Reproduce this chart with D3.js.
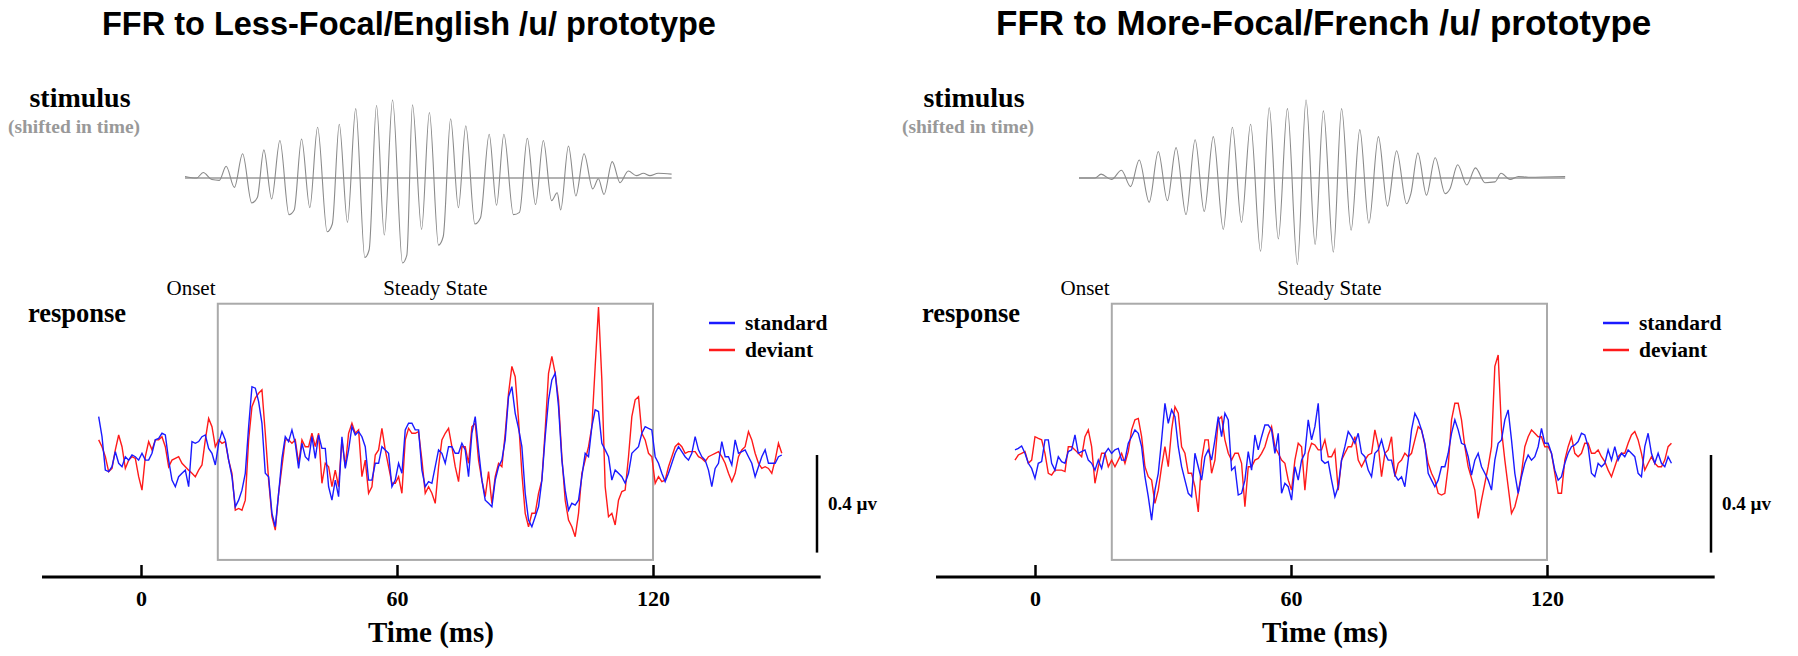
<!DOCTYPE html>
<html>
<head>
<meta charset="utf-8">
<script src="https://cdn.jsdelivr.net/npm/d3@7"></script>
<style>
  body { margin: 0; background: #fff; }
</style>
</head>
<body>
<svg id="chart"></svg>
<script>
// ---- data ----
var titles = ["FFR to Less-Focal/English /u/ prototype", "FFR to More-Focal/French /u/ prototype"];
var tickValues = [0, 60, 120];
var steadyWindow = [18, 120];      // ms, grey box
var boxAmp = [-0.43, 0.62];        // µV, grey box
var scaleBarUv = 0.4;
var axisExtent = [-23.2, 159.3];   // ms

// responses, sampled every sampleStep ms (µV)
var sampleStep = 0.781;
var leftStart = -9.92, rightStart = -4.69;

var leftStandard = [0.157,0.075,-0.062,-0.068,-0.048,0.014,-0.034,-0.048,-0.007,-0.021,
0,-0.007,-0.021,0.007,-0.021,-0.021,0.007,0.062,0.068,0.089,
0.082,-0.021,-0.103,-0.130,-0.089,-0.075,-0.062,-0.130,0.055,0.048,
0.055,0.075,0.082,0.027,0.007,-0.041,0.048,0.096,0.062,-0.021,
-0.089,-0.212,-0.185,-0.144,-0.075,0.116,0.280,0.274,0.219,0.130,
-0.075,-0.089,-0.239,-0.294,-0.157,-0.014,0.075,0.055,0.103,0.048,
-0.055,0.048,-0.007,-0.021,0.075,-0.014,0.082,0.027,0.027,-0.130,
-0.185,-0.103,-0.171,0.075,-0.055,0.021,0.116,0.082,0.096,0.075,
0.034,-0.103,-0.103,-0.034,-0.034,0.034,0.021,0.007,-0.130,-0.103,
-0.034,-0.075,0.103,0.130,0.130,0.103,0.103,-0.062,-0.130,-0.109,
-0.116,-0.048,0.021,0.007,-0.034,0.034,0.034,0.007,0.007,0.048,
0.021,-0.089,0.089,0.157,0.021,-0.103,-0.185,-0.198,-0.212,-0.103,
-0.048,-0.021,0.062,0.239,0.280,0.171,0.109,0.034,-0.157,-0.267,
-0.294,-0.253,-0.212,-0.103,0.075,0.226,0.308,0.335,0.198,-0.021,
-0.144,-0.226,-0.198,-0.205,-0.185,-0.089,0.007,-0.007,0.116,0.185,
0.178,0.048,0.021,-0.007,-0.103,-0.062,-0.075,-0.089,-0.116,-0.075,
0.007,0.021,0.034,0.089,0.116,0.109,0.103,-0.007,-0.034,-0.075,
-0.109,-0.075,-0.034,0.007,0.034,0.014,-0.007,-0.021,0.007,0.075,
0.021,-0.007,-0.021,-0.062,-0.130,-0.055,-0.034,0.055,-0.007,-0.007,
-0.041,0.062,0.007,0.014,0.021,-0.007,-0.034,-0.089,-0.048,-0.007,
0.021,-0.034,-0.034,-0.034,-0.007,0];

var leftDeviant = [0.062,0.034,-0.007,-0.068,-0.055,0.021,0.082,0.034,-0.055,-0.021,
-0.007,-0.014,-0.089,-0.144,-0.007,0.055,0.021,0.062,0.062,0.075,
0.034,-0.048,-0.021,-0.014,-0.007,-0.034,-0.048,-0.062,-0.075,-0.089,
-0.062,-0.041,0.062,0.150,0.116,0.034,0.062,0.048,0.055,-0.021,
-0.075,-0.226,-0.219,-0.226,-0.185,0.062,0.198,0.233,0.253,0.267,
0.089,-0.103,-0.253,-0.308,-0.157,-0.048,0.062,0.062,0.048,0.062,
-0.034,0.062,0.034,0.034,0.089,0.034,0.089,-0.116,-0.034,-0.048,
-0.130,-0.062,-0.130,0.062,-0.048,0.089,0.130,0.089,0.103,-0.089,
-0.021,-0.157,-0.130,0,0.021,0.109,0.021,-0.048,-0.116,-0.116,
-0.089,-0.157,0.062,0.109,0.089,0.089,0.096,-0.021,-0.157,-0.130,
-0.157,-0.198,-0.048,0.062,0.089,0.109,0.034,-0.048,-0.109,0.034,
0.034,-0.034,0.116,0.130,-0.021,-0.103,-0.171,-0.068,-0.198,-0.089,
-0.034,-0.048,0.089,0.253,0.363,0.321,0.144,-0.075,-0.239,-0.294,
-0.239,-0.239,-0.157,-0.103,0.103,0.335,0.404,0.335,0.226,-0.007,
-0.185,-0.267,-0.294,-0.335,-0.239,-0.075,-0.021,0.034,0.116,0.363,
0.606,0.308,-0.130,-0.253,-0.239,-0.287,-0.185,-0.150,-0.144,-0.007,
0.157,0.226,0.239,0.089,0.062,0.007,-0.007,-0.116,-0.089,-0.109,
-0.103,-0.048,-0.007,0.034,0.048,0.034,0.007,0.014,0.014,0.014,
-0.007,-0.014,-0.027,-0.007,0,0.007,0.014,-0.007,-0.034,-0.075,
-0.109,-0.075,-0.007,0.021,0.034,0.096,0.062,0.007,-0.034,-0.055,
-0.048,-0.055,-0.075,-0.021,0.048,0.007];

var rightStandard = [0.021,0.027,0.037,0.007,-0.034,-0.055,-0.096,-0.034,-0.027,0.062,
0.062,-0.034,-0.062,-0.007,-0.027,-0.034,0.014,0.021,0.082,0.007,
0.014,0.021,-0.021,-0.034,-0.062,-0.021,-0.055,0.007,0.027,0.007,
0.021,0.027,-0.021,-0.021,0.048,0.075,0.103,0.089,0.034,-0.089,
-0.171,-0.267,-0.144,-0.075,0.062,0.212,0.130,0.185,0.157,0.034,
-0.048,-0.103,-0.157,-0.171,0.007,-0.048,-0.103,-0.007,0.021,-0.021,
0.062,0.157,0.075,0.171,0.144,-0.062,-0.048,-0.164,-0.157,-0.103,
0.014,-0.062,0.082,0.021,0.075,0.123,0.123,0.103,0.007,0.089,
-0.157,-0.116,-0.130,-0.185,-0.048,-0.103,-0.021,0.007,0.144,0.062,
0.116,0.212,-0.021,-0.034,-0.027,-0.103,-0.171,-0.130,-0.021,0.034,
0.096,0.075,0.048,0.089,0.007,-0.007,-0.062,-0.089,0.007,0.021,
0.062,0.007,-0.021,-0.021,-0.082,-0.103,-0.089,-0.130,-0.021,0.103,
0.171,0.144,0.103,0.048,-0.075,-0.103,-0.130,-0.103,-0.048,-0.048,
0.007,0.089,0.144,0.103,0.048,0.041,-0.007,-0.082,-0.021,0.007,
-0.048,-0.075,-0.103,-0.144,-0.021,0.048,0.062,0.144,0.185,0.062,
-0.075,-0.157,-0.089,-0.034,0,-0.021,-0.007,0.034,0.109,0.048,
0.048,0.007,-0.062,-0.103,-0.089,-0.034,0.007,0.034,0.041,0.055,
0.089,0.082,0.034,-0.075,-0.089,-0.034,-0.048,-0.034,0.021,-0.021,
0.034,-0.021,0.007,-0.007,0.021,0.007,-0.007,-0.075,-0.089,0.034,
0.089,0.007,-0.034,0.007,-0.034,-0.048,-0.007,-0.034];

var rightDeviant = [-0.021,0,0.007,0.014,-0.034,-0.021,0.075,0.068,0.062,0.007,
-0.075,-0.082,-0.062,-0.062,-0.062,-0.068,0.034,0.034,0.021,0.007,
-0.007,0.075,0.103,0.034,-0.116,-0.048,0.007,0.007,-0.048,-0.021,
-0.048,-0.021,0.007,-0.034,0.014,0.103,0.144,0.150,0.075,-0.048,
-0.089,-0.103,-0.198,-0.144,-0.048,0.034,-0.048,0.103,0.198,0.171,
0.034,0.007,-0.075,-0.075,-0.130,-0.233,-0.021,0.062,0.062,-0.075,
-0.021,0.144,0.157,0.062,0.007,-0.021,0.007,0.007,-0.034,-0.212,
-0.048,-0.048,-0.021,-0.014,0.007,0.034,0.082,0.116,0.034,0.007,
-0.021,-0.034,-0.103,-0.144,-0.021,0.048,0.034,-0.144,0.007,0.048,
0.041,0.021,0.021,0.062,-0.007,-0.007,0.021,-0.144,-0.021,0.007,
0.034,0.034,0.075,-0.021,-0.048,-0.021,0,0.007,0.103,0.041,
-0.089,0.007,0.021,0.075,-0.089,-0.034,-0.021,0.007,-0.007,0.007,
0.062,0.116,0.103,0.041,-0.034,-0.075,-0.103,-0.157,-0.164,-0.157,
-0.048,0.144,0.212,0.212,0.144,0.034,-0.048,-0.096,-0.144,-0.260,
-0.185,-0.116,-0.048,0.034,0.363,0.410,0.103,-0.021,-0.130,-0.239,
-0.212,-0.157,-0.075,0.034,0.075,0.103,0.089,0.075,0.075,0.034,
0.034,0.007,-0.075,-0.157,-0.157,-0.021,0.034,0.075,0.007,-0.007,
0.007,0.048,0.048,0.007,0.007,0.021,-0.007,-0.027,-0.062,-0.089,
-0.048,-0.007,0.007,0.007,0.048,0.082,0.096,0.062,0.007,-0.062,
-0.034,-0.007,-0.034,-0.048,-0.048,-0.021,0.034,0.048];

// stimulus turning points (ms from stimulus start, relative amplitude)
var leftStimTime = [0,2.7,4.2,6.2,7.9,9.5,11.4,13.3,15.4,16.7,18.2,20.0,21.9,24.0,25.2,26.9,28.8,30.6,32.8,34.0,
35.6,37.5,39.4,41.5,42.5,44.2,46.0,47.9,50.2,51.2,52.5,54.6,56.4,58.5,59.6,61.3,63.1,64.8,66.9,68.2,
70.2,71.9,73.6,75.8,77.2,79.0,80.9,82.7,84.6,85.9,86.7,88.5,90.2,92.1,94.1,95.4,96.7,98.6,100.4,102.3,
104.2,105.8,107.3,109.2,112.3];
var leftStimAmp = [0.02,0,0.07,-0.02,-0.03,0.15,-0.12,0.31,-0.32,-0.25,0.36,-0.27,0.48,-0.47,-0.41,0.50,-0.38,0.65,-0.69,-0.59,
0.69,-0.57,0.89,-1.02,-0.92,0.93,-0.73,1.00,-1.09,-0.99,0.94,-0.66,0.84,-0.86,-0.75,0.76,-0.38,0.67,-0.59,-0.51,
0.56,-0.35,0.56,-0.47,-0.44,0.51,-0.34,0.48,-0.29,-0.19,-0.41,0.41,-0.23,0.31,-0.14,-0.01,-0.21,0.21,-0.06,0.09,
0.03,0.06,0.03,0.06,0.05];
var rightStimTime = [0,3.7,5.1,7.5,9.8,11.9,13.9,16.2,18.3,20.4,22.4,24.7,26.8,28.9,31.0,33.3,35.4,37.5,39.6,41.9,
43.9,46.0,48.1,50.4,52.4,54.5,56.4,58.7,60.6,62.8,64.8,66.9,69.1,71.2,73.3,75.6,76.6,78.2,80.2,82.2,
84.5,85.6,87.4,89.5,91.5,93.7,96.0,97.4,99.5,101.4,103.7,112.2];
var rightStimAmp = [0,0,0.05,-0.02,0.10,-0.11,0.23,-0.31,0.34,-0.29,0.39,-0.47,0.49,-0.43,0.53,-0.66,0.65,-0.57,0.69,-0.94,
0.90,-0.78,0.89,-1.11,1.00,-0.85,0.86,-0.95,0.89,-0.67,0.62,-0.58,0.53,-0.36,0.35,-0.33,-0.20,0.32,-0.22,0.26,
-0.20,-0.14,0.17,-0.09,0.13,-0.06,-0.05,0.06,-0.02,0.02,0.01,0.02];

var panels = [
  { title: titles[0], titleSize: 32.5, start: leftStart, standard: leftStandard, deviant: leftDeviant, stimT: leftStimTime, stimA: leftStimAmp },
  { title: titles[1], titleSize: 35, start: rightStart, standard: rightStandard, deviant: rightDeviant, stimT: rightStimTime, stimA: rightStimAmp }
];

// ---- layout ----
var width = 1798, height = 656, panelShift = 894,
    axisY = 577, zeroY = 455, pxPerUv = 244, stimBase = 178;

var svg = d3.select("#chart").attr("width", width).attr("height", height);

var x = d3.scaleLinear().domain([0, 120]).range([141, 653]),
    y = d3.scaleLinear().domain([-scaleBarUv, scaleBarUv]).range([zeroY + scaleBarUv * pxPerUv, zeroY - scaleBarUv * pxPerUv]),
    stimX = d3.scaleLinear().domain([0, 100]).range([185, 618.3]),
    stimY = d3.scaleLinear().domain([-1, 1]).range([stimBase + 78, stimBase - 78]);

var serif = '"Liberation Serif", "Times New Roman", serif',
    sans = '"Liberation Sans", Arial, Helvetica, sans-serif';

panels.forEach(function(p, i) {
  var g = svg.append("g").attr("transform", "translate(" + (i * panelShift) + ",0)");

  g.append("text")
      .attr("x", 102).attr("y", 35)
      .style("font-family", sans).style("font-weight", "bold").style("font-size", p.titleSize + "px")
      .text(p.title);

  // side labels
  g.append("text").attr("x", 80).attr("y", 107).attr("text-anchor", "middle")
      .style("font-family", serif).style("font-weight", "bold").style("font-size", "28px")
      .text("stimulus");
  g.append("text").attr("x", 74).attr("y", 133).attr("text-anchor", "middle")
      .style("font-family", serif).style("font-weight", "bold").style("font-size", "19.5px")
      .style("fill", "#999")
      .text("(shifted in time)");
  g.append("text").attr("x", 77).attr("y", 322).attr("text-anchor", "middle")
      .style("font-family", serif).style("font-weight", "bold").style("font-size", "26.5px")
      .text("response");

  // stimulus waveform
  var stimLine = d3.line()
      .x(function(d, j) { return stimX(p.stimT[j]); })
      .y(function(d) { return stimY(d); })
      .curve(d3.curveMonotoneX);

  g.append("line")
      .attr("x1", stimX(0)).attr("x2", stimX(d3.max(p.stimT)))
      .attr("y1", stimY(0)).attr("y2", stimY(0))
      .style("stroke", "#666").style("stroke-width", 1);

  g.append("path")
      .datum(p.stimA)
      .attr("d", stimLine)
      .style("fill", "none").style("stroke", "#8a8a8a").style("stroke-width", 1.1);

  // steady state window
  g.append("rect")
      .attr("x", x(steadyWindow[0])).attr("y", y(boxAmp[1]))
      .attr("width", x(steadyWindow[1]) - x(steadyWindow[0]))
      .attr("height", y(boxAmp[0]) - y(boxAmp[1]))
      .style("fill", "none").style("stroke", "#aaa").style("stroke-width", 2);

  g.append("text").attr("x", 191).attr("y", 295).attr("text-anchor", "middle")
      .style("font-family", serif).style("font-size", "21px").text("Onset");
  g.append("text").attr("x", x((steadyWindow[0] + steadyWindow[1]) / 2)).attr("y", 295).attr("text-anchor", "middle")
      .style("font-family", serif).style("font-size", "21px").text("Steady State");

  // responses
  var trace = d3.line()
      .x(function(d, j) { return x(p.start + j * sampleStep); })
      .y(function(d) { return y(d); });

  g.append("path").datum(p.deviant).attr("d", trace)
      .style("fill", "none").style("stroke", "#ff1a1a").style("stroke-width", 1.4);
  g.append("path").datum(p.standard).attr("d", trace)
      .style("fill", "none").style("stroke", "#1a1aff").style("stroke-width", 1.4);

  // legend
  var legend = [["standard", "#1a1aff"], ["deviant", "#ff1a1a"]];
  legend.forEach(function(l, k) {
    var ly = 323 + k * 27;
    g.append("line").attr("x1", 709).attr("x2", 735).attr("y1", ly).attr("y2", ly)
        .style("stroke", l[1]).style("stroke-width", 2.5);
    g.append("text").attr("x", 745).attr("y", ly + 7)
        .style("font-family", serif).style("font-weight", "bold").style("font-size", "21.5px")
        .text(l[0]);
  });

  // scale bar
  g.append("line").attr("x1", 817).attr("x2", 817).attr("y1", y(0)).attr("y2", y(-scaleBarUv))
      .style("stroke", "#000").style("stroke-width", 2.5);
  g.append("text").attr("x", 828).attr("y", 510)
      .style("font-family", serif).style("font-weight", "bold").style("font-size", "19px")
      .text(scaleBarUv + " \u00b5v");

  // time axis
  g.append("line").attr("x1", x(axisExtent[0])).attr("x2", x(axisExtent[1]))
      .attr("y1", axisY).attr("y2", axisY)
      .style("stroke", "#000").style("stroke-width", 3);

  var axis = g.append("g").attr("transform", "translate(0," + axisY + ")")
      .call(d3.axisBottom(x).tickValues(tickValues).tickSize(-12).tickPadding(13));
  axis.select(".domain").remove();
  axis.selectAll(".tick line").style("stroke-width", 2.5);
  axis.selectAll(".tick text")
      .style("font-family", serif).style("font-weight", "bold").style("font-size", "22px");

  g.append("text").attr("x", 431).attr("y", 642).attr("text-anchor", "middle")
      .style("font-family", serif).style("font-weight", "bold").style("font-size", "29px")
      .text("Time (ms)");
});
</script>
</body>
</html>
